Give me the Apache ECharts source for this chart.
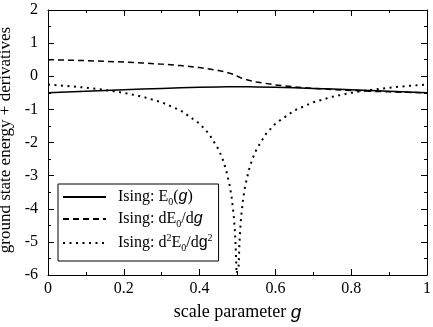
<!DOCTYPE html>
<html>
<head>
<meta charset="utf-8">
<script src="https://cdn.jsdelivr.net/npm/echarts@6/dist/echarts.min.js"></script>
<style>
  html, body { margin: 0; padding: 0; background: #fff; }
  #chart { width: 433px; height: 327px; }
</style>
</head>
<body>
<div id="chart"></div>
<script>
// scale parameter g and the curves
const gCoarse = [0, 0.05, 0.1, 0.15, 0.2, 0.25, 0.3, 0.35, 0.4, 0.45, 0.47, 0.49, 0.5,
                 0.51, 0.53, 0.55, 0.6, 0.65, 0.7, 0.75, 0.8, 0.85, 0.9, 0.95, 1];
const energy = [-0.5, -0.4753, -0.4514, -0.4283, -0.4063, -0.3855, -0.3661, -0.349, -0.3344, -0.3234, -0.3204, -0.3186, -0.3183,
                -0.3186, -0.3204, -0.3234, -0.3344, -0.349, -0.3661, -0.3855, -0.4063, -0.4283, -0.4514, -0.4753, -0.5];
const firstDeriv = [0.5, 0.4864, 0.4707, 0.4518, 0.429, 0.4012, 0.366, 0.3214, 0.2607, 0.1723, 0.1225, 0.0547, 0,
                    -0.0547, -0.1225, -0.1723, -0.2607, -0.3214, -0.366, -0.4012, -0.429, -0.4518, -0.4707, -0.4864, -0.5];

const gFine = [0, 0.05, 0.1, 0.15, 0.2, 0.25, 0.3, 0.35, 0.4, 0.425, 0.45, 0.46, 0.47, 0.48, 0.485, 0.49, 0.493, 0.495, 0.497, 0.4975, 0.5,
               0.5025, 0.503, 0.505, 0.507, 0.51, 0.515, 0.52, 0.53, 0.54, 0.55, 0.575, 0.6, 0.65, 0.7, 0.75, 0.8, 0.85, 0.9, 0.95, 1];
const secondDeriv = [-0.25, -0.292, -0.345, -0.413, -0.5, -0.619, -0.787, -1.032, -1.431, -1.742, -2.209, -2.476, -2.827, -3.33, -3.69, -4.2, -4.65, -5.08, -5.73, -5.96, -6,
                     -5.96, -5.73, -5.08, -4.65, -4.2, -3.69, -3.33, -2.827, -2.476, -2.209, -1.742, -1.431, -1.032, -0.787, -0.619, -0.5, -0.413, -0.345, -0.292, -0.25];

const xTicks = [0, 0.2, 0.4, 0.6, 0.8, 1];
const yTicks = [-6, -5, -4, -3, -2, -1, 0, 1, 2];

const legendLabels = {
    E0: '{t|Ising: E}{sub|0}{t|(}{g|g}{t|)}',
    dE0: '{t|Ising: dE}{sub|0}{t|/d}{g|g}',
    d2E0: '{t|Ising: d}{sup|2}{t|E}{sub|0}{t|/d}{gu|g}{sup|2}'
};

const pairs = (xs, ys) => xs.map((x, i) => [x, ys[i]]);

const serif = 'Liberation Serif';
const black = '#000';

const baseAxis = (extra) => Object.assign({
    type: 'value',
    axisLine: { show: true, onZero: false, lineStyle: { color: black, width: 1 } },
    axisTick: { show: true, inside: true, length: 6, lineStyle: { color: black, width: 1 } },
    minorTick: { show: true, splitNumber: 2, length: 3, lineStyle: { color: black, width: 1 } },
    splitLine: { show: false },
    minorSplitLine: { show: false }
}, extra);

const xBase = { min: xTicks[0], max: xTicks[xTicks.length - 1], interval: 0.2 };
const yBase = { min: yTicks[0], max: yTicks[yTicks.length - 1], interval: 1 };

const chart = echarts.init(document.getElementById('chart'));
chart.setOption({
    animation: false,
    backgroundColor: '#fff',
    grid: { left: 48, right: 6, top: 10, bottom: 52, containLabel: false, outerBoundsMode: 'none' },
    xAxis: [
        baseAxis(Object.assign({}, xBase, {
            position: 'bottom',
            name: '{t|scale parameter }{g|g}',
            nameLocation: 'middle',
            nameGap: 28,
            nameTextStyle: {
                rich: {
                    t: { fontFamily: serif, fontSize: 18, color: black },
                    g: { fontFamily: 'Liberation Sans', fontStyle: 'italic', fontSize: 19, color: black }
                }
            },
            axisLabel: {
                margin: 6,
                fontFamily: serif, fontSize: 16, color: black,
                formatter: (v) => String(Math.round(v * 10) / 10)
            }
        })),
        baseAxis(Object.assign({}, xBase, {
            position: 'top',
            axisLabel: { show: false }
        }))
    ],
    yAxis: [
        baseAxis(Object.assign({}, yBase, {
            position: 'left',
            name: 'ground state energy + derivatives',
            nameLocation: 'middle',
            nameGap: 27,
            nameTextStyle: { fontFamily: serif, fontSize: 17, color: black, padding: [0, 0, 0, 5] },
            axisLabel: { margin: 10, fontFamily: serif, fontSize: 16, color: black }
        })),
        baseAxis(Object.assign({}, yBase, {
            position: 'right',
            axisLabel: { show: false }
        }))
    ],
    legend: {
        orient: 'vertical',
        left: 58,
        top: 184,
        padding: [5, 6, 8, 4],
        itemGap: 4,
        itemWidth: 43,
        itemHeight: 14,
        selectedMode: false,
        backgroundColor: '#fff',
        borderColor: black,
        borderWidth: 1,
        borderRadius: 0,
        itemStyle: { opacity: 0 },
        data: ['E0', 'dE0', 'd2E0'],
        formatter: (name) => legendLabels[name],
        textStyle: {
            padding: [0, 0, 0, 7],
            rich: {
                t: { fontFamily: serif, fontSize: 16, lineHeight: 20, color: black },
                sub: { fontFamily: serif, fontSize: 10, lineHeight: 12, verticalAlign: 'bottom', color: black },
                sup: { fontFamily: serif, fontSize: 10, lineHeight: 12, verticalAlign: 'top', color: black },
                g: { fontFamily: 'Liberation Sans', fontStyle: 'italic', fontSize: 16, lineHeight: 20, color: black },
                gu: { fontFamily: 'Liberation Sans', fontSize: 16, lineHeight: 20, color: black }
            }
        }
    },
    series: [
        {
            name: 'E0', type: 'line', symbol: 'none', clip: true,
            lineStyle: { color: black, width: 1.5, type: 'solid' },
            itemStyle: { color: black },
            data: pairs(gCoarse, energy)
        },
        {
            name: 'dE0', type: 'line', symbol: 'none', clip: true,
            lineStyle: { color: black, width: 1.5, type: [6, 4] },
            itemStyle: { color: black },
            data: pairs(gCoarse, firstDeriv)
        },
        {
            name: 'd2E0', type: 'line', symbol: 'none', clip: true,
            lineStyle: { color: black, width: 2, type: [2, 4.5] },
            itemStyle: { color: black },
            data: pairs(gFine, secondDeriv)
        }
    ]
});
</script>
</body>
</html>
